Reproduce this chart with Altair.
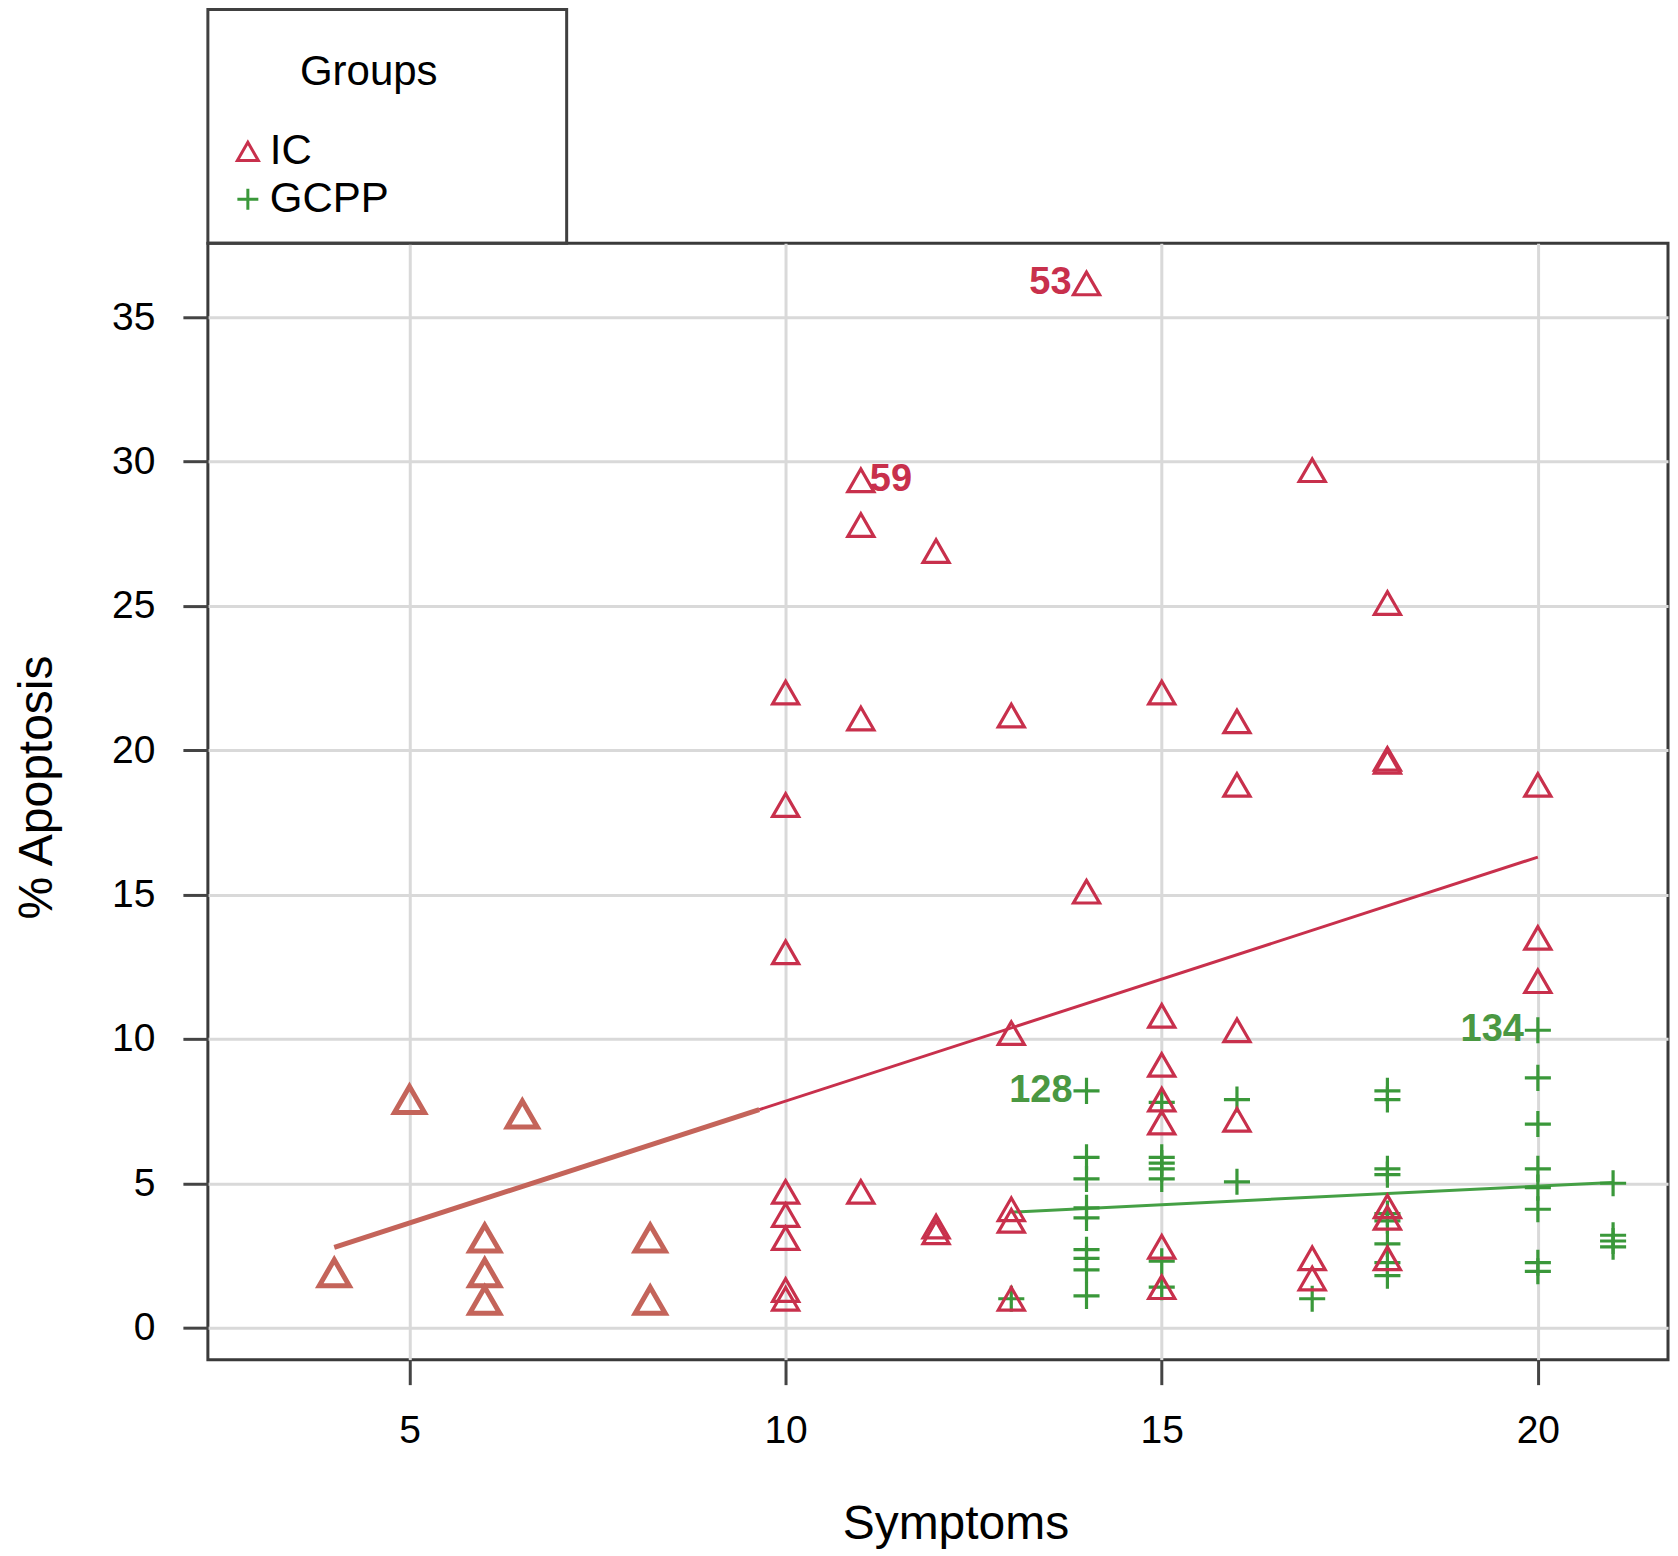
import altair as alt
import pandas as pd

# ---- data ----
ic_x = [10, 10, 10, 10, 10, 10, 10, 10,
        11, 11, 11, 11,
        12, 12, 12,
        13, 13, 13, 13, 13,
        14, 14,
        15, 15, 15, 15, 15, 15, 15,
        16, 16, 16, 16,
        17, 17, 17,
        18, 18, 18, 18, 18, 18,
        20, 20, 20]
ic_y = [22.0, 18.1, 13.0, 4.7, 3.9, 3.1, 1.3, 1.0,
        29.35, 27.8, 21.1, 4.7,
        26.9, 3.5, 3.3,
        21.2, 10.2, 4.1, 3.7, 1.0,
        36.17, 15.1,
        22.0, 10.8, 9.1, 7.9, 7.1, 2.8, 1.4,
        21.0, 18.8, 10.3, 7.2,
        29.7, 2.4, 1.7,
        25.1, 19.7, 19.6, 4.2, 3.8, 2.4,
        18.8, 13.5, 12.0]

ic_left_x = [4, 5, 6.5, 6, 6, 6, 8.2, 8.2]
ic_left_y = [1.9, 7.9, 7.4, 3.1, 1.9, 0.95, 3.1, 0.95]

gcpp_x = [13,
          14, 14, 14, 14, 14, 14, 14, 14, 14,
          15, 15, 15, 15, 15, 15, 15,
          16, 16,
          17,
          18, 18, 18, 18, 18, 18, 18, 18, 18,
          20, 20, 20, 20, 20, 20, 20, 20,
          21, 21, 21, 21]
gcpp_y = [1.0,
          8.2, 5.9, 5.15, 4.15, 3.8, 2.7, 2.4, 2.0, 1.1,
          7.8, 5.9, 5.7, 5.5, 5.15, 2.3, 1.4,
          7.9, 5.05,
          1.0,
          8.2, 7.9, 5.5, 5.3, 3.95, 3.7, 2.9, 2.25, 1.8,
          10.3, 8.65, 7.05, 5.5, 4.85, 4.1, 2.25, 1.95,
          5.0, 3.2, 3.0, 2.8]

# fitted lines as drawn
ic_fit_left_x = [4, 9.65]
ic_fit_left_y = [2.78, 7.55]
ic_fit_right_x = [9.65, 20]
ic_fit_right_y = [7.55, 16.3]
gcpp_fit_x = [13, 21]
gcpp_fit_y = [4.0, 5.03]

red_lab_left_text = ["53"]
red_lab_left_x = [14]
red_lab_left_y = [36.17]
red_lab_right_text = ["59"]
red_lab_right_x = [11]
red_lab_right_y = [29.35]
green_lab_text = ["128", "134"]
green_lab_x = [14, 20]
green_lab_y = [8.2, 10.3]

groups = ["IC", "GCPP"]
x_ticks = [5, 10, 15, 20]
y_ticks = [0, 5, 10, 15, 20, 25, 30, 35]

# ---- styling ----
FONT = "Liberation Sans"
RED = "#c8304c"
BROWN = "#c4645a"
GREEN = "#3a983a"
GREEN_TXT = "#4a9842"
PLUS = "M-1,0L1,0M0,-1L0,1"

W, H = 1461, 1117
xs = alt.Scale(domain=[2.32, 21.73], nice=False, zero=False)
ys = alt.Scale(domain=[-1.11, 37.56], nice=False, zero=False)

xax = alt.Axis(values=x_ticks, format="d", title="Symptoms", titleX=748, titleY=165,
               titleBaseline="middle", titleAlign="center",
               labelPadding=27)
yax = alt.Axis(values=y_ticks, format="d", title="% Apoptosis", titleX=-170, titleY=544,
               titleAngle=270, titleBaseline="middle", titleAlign="center",
               labelPadding=28)

pts_df = pd.DataFrame({
    "x": gcpp_x + ic_x,
    "y": gcpp_y + ic_y,
    "group": ["GCPP"] * len(gcpp_x) + ["IC"] * len(ic_x),
})

leg = dict(title=None, orient="none", legendX=19, legendY=-113,
           labelFontSize=42, labelFont=FONT, labelColor="black",
           symbolSize=440, symbolStrokeWidth=3,
           rowPadding=6, labelOffset=1, padding=0)

points = alt.Chart(pts_df).mark_point(filled=False, strokeWidth=3.2, size=680, opacity=1).encode(
    x=alt.X("x:Q", scale=xs, axis=xax),
    y=alt.Y("y:Q", scale=ys, axis=yax),
    color=alt.Color("group:N", scale=alt.Scale(domain=groups, range=[RED, GREEN]),
                    legend=alt.Legend(**leg)),
    shape=alt.Shape("group:N", scale=alt.Scale(domain=groups, range=["triangle-up", PLUS]),
                    legend=alt.Legend(**leg)),
)

left_df = pd.DataFrame({"x": ic_left_x, "y": ic_left_y})
left_pts = alt.Chart(left_df).mark_point(shape="triangle-up", filled=False, strokeWidth=5,
                                         size=900, color=BROWN, opacity=1).encode(
    x=alt.X("x:Q", scale=xs), y=alt.Y("y:Q", scale=ys))

def line(xv, yv, color, width):
    d = pd.DataFrame({"x": xv, "y": yv})
    return alt.Chart(d).mark_line(color=color, strokeWidth=width).encode(
        x=alt.X("x:Q", scale=xs), y=alt.Y("y:Q", scale=ys))

fit_left = line(ic_fit_left_x, ic_fit_left_y, BROWN, 5)
fit_right = line(ic_fit_right_x, ic_fit_right_y, RED, 3)
fit_green = line(gcpp_fit_x, gcpp_fit_y, "#45a045", 3)

def labels(txt, xv, yv, color, align, dx):
    d = pd.DataFrame({"t": txt, "x": xv, "y": yv})
    return alt.Chart(d).mark_text(font=FONT, fontSize=38, fontWeight="bold", color=color,
                                  align=align, baseline="middle", dx=dx).encode(
        x=alt.X("x:Q", scale=xs), y=alt.Y("y:Q", scale=ys), text="t:N")

lab1 = labels(red_lab_left_text, red_lab_left_x, red_lab_left_y, RED, "right", -15)
lab2 = labels(red_lab_right_text, red_lab_right_x, red_lab_right_y, RED, "left", 9)
lab3 = labels(green_lab_text, green_lab_x, green_lab_y, GREEN_TXT, "right", -14)

legend_box = alt.Chart(pd.DataFrame({"a": [0]})).mark_rect(
    fillOpacity=0, stroke="#404040", strokeWidth=3).encode(
    x=alt.value(0), x2=alt.value(359), y=alt.value(-234), y2=alt.value(0))

legend_title = alt.Chart(pd.DataFrame({"t": ["Groups"]})).mark_text(
    font=FONT, fontSize=42, color="black", align="center", baseline="middle").encode(
    x=alt.value(161), y=alt.value(-171), text="t:N")

chart = alt.layer(
    fit_left, fit_right, fit_green, points, left_pts, lab1, lab2, lab3,
    legend_box, legend_title,
).properties(
    width=W, height=H,
    autosize=alt.AutoSizeParams(type="none"),
    padding={"left": 200, "top": 235, "right": 2, "bottom": 196},
).configure_view(
    stroke="#3a3a3a", strokeWidth=3,
).configure_axis(
    grid=True, gridColor="#d9d9d9", gridWidth=3,
    domain=False, ticks=True, tickColor="#444444", tickWidth=3, tickSize=25,
    labelFont=FONT, labelFontSize=39, labelColor="black",
    titleFont=FONT, titleFontSize=48, titleFontWeight="normal", titleColor="black",
)

chart.save("out.html", embed_options={"renderer": "svg", "actions": False})
